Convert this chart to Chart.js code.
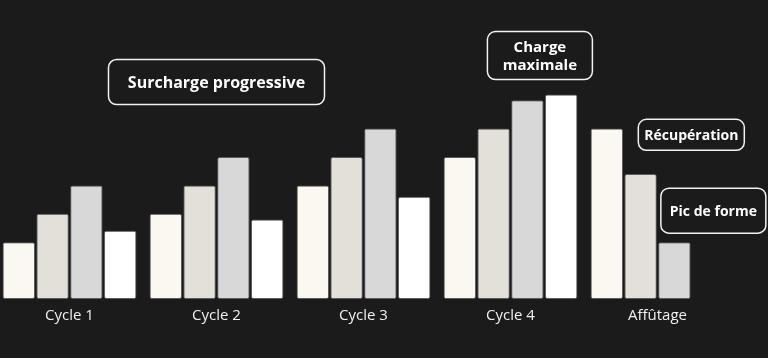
<!DOCTYPE html>
<html>
<head>
<meta charset="utf-8">
<script src="https://cdn.jsdelivr.net/npm/chart.js@4"></script>
<style>
  html, body { margin: 0; padding: 0; background: #1b1b1b; overflow: hidden; }
  #wrap { position: relative; left: -4px; width: 772px; height: 358px; }
</style>
</head>
<body>
<div id="wrap"><canvas id="myChart"></canvas></div>
<script>
// phases du plan
const categories = ['Cycle 1', 'Cycle 2', 'Cycle 3', 'Cycle 4', 'Affûtage'];
// charge relative, semaine par semaine
const semaine1 = [20, 30, 40, 50, 60];
const semaine2 = [30, 40, 50, 60, 44];
const semaine3 = [40, 50, 60, 70, 20];
const semaine4 = [24, 28, 36, 72, null];

const barColors = ['#fbf8f1', '#e3e0da', '#d8d8d8', '#ffffff'];

// étiquettes encadrées : position en (catégorie, valeur)
const notes = [
  { lines: ['Surcharge progressive'], x: 1.0, y: 76.4, w: 216, h: 45, size: 16 },
  { lines: ['Charge', 'maximale'], x: 3.2, y: 85.7, w: 105, h: 48, size: 15 },
  { lines: ['Récupération'], x: 4.23, y: 57.8, w: 106, h: 31, size: 14 },
  { lines: ['Pic de forme'], x: 4.38, y: 31.1, w: 105, h: 45, size: 14 }
];

const notesPlugin = {
  id: 'notes',
  afterDatasetsDraw(chart) {
    const c = chart.ctx;
    const xs = chart.scales.x, ys = chart.scales.y;
    c.save();
    notes.forEach(n => {
      const cx = xs.getPixelForValue(n.x);
      const cy = ys.getPixelForValue(n.y);
      const left = cx - n.w / 2, top = cy - n.h / 2;
      c.beginPath();
      c.roundRect(left, top, n.w, n.h, 8);
      c.fillStyle = '#1b1b1b';
      c.fill();
      c.lineWidth = 1.5;
      c.strokeStyle = '#f2f2f2';
      c.stroke();
      c.fillStyle = '#ffffff';
      c.font = 'bold ' + n.size + 'px "Open Sans", sans-serif';
      c.textAlign = 'center';
      c.textBaseline = 'middle';
      const lh = 17.4;
      n.lines.forEach((t, i) => {
        c.fillText(t, cx, cy + 1 + (i - (n.lines.length - 1) / 2) * lh);
      });
    });
    c.restore();
  }
};

const ctx = document.getElementById('myChart');
const myChart = new Chart(ctx, {
  type: 'bar',
  data: {
    labels: categories,
    datasets: [semaine1, semaine2, semaine3, semaine4].map((d, i) => ({
      label: 'Semaine ' + (i + 1),
      data: d,
      backgroundColor: barColors[i],
      borderColor: 'rgba(110,110,110,0.8)',
      borderWidth: 1,
      borderRadius: 2,
      borderSkipped: false,
      categoryPercentage: 0.92,
      barPercentage: 0.96
    }))
  },
  options: {
    responsive: true,
    maintainAspectRatio: false,
    animation: false,
    layout: { padding: { left: 0, right: 37, top: 15, bottom: 33 } },
    plugins: {
      legend: { display: false },
      tooltip: { enabled: false }
    },
    scales: {
      x: {
        grid: { display: false },
        border: { display: false },
        ticks: {
          color: '#f0f0f0',
          padding: 0,
          font: { family: '"Open Sans", sans-serif', size: 15 }
        }
      },
      y: {
        display: false,
        min: 0,
        max: 100
      }
    }
  },
  plugins: [notesPlugin]
});
</script>
</body>
</html>
